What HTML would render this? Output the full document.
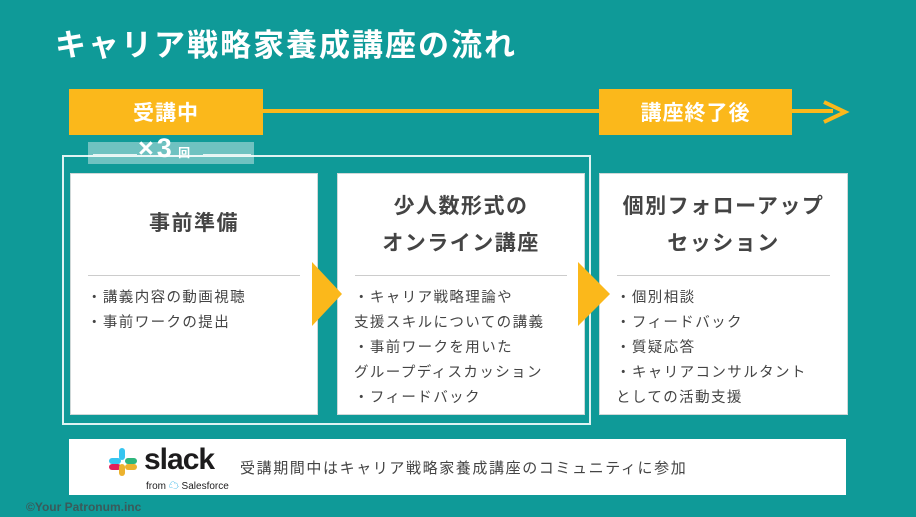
<!DOCTYPE html><html><head><meta charset="utf-8"><style>
body{margin:0;width:916px;height:517px;background:#0f9a98;position:relative;overflow:hidden;font-family:"Liberation Sans","Noto Sans CJK JP",sans-serif}
.a{position:absolute}
.y{background:#fbb81b;color:#fff;font-weight:bold;font-size:21px;display:flex;align-items:center;justify-content:center;letter-spacing:1px}
.card{background:#fff;border:1px solid #cfd8d8}
.h{position:absolute;left:0;right:0;text-align:center;font-weight:bold;color:#444;font-size:21px;line-height:37px;letter-spacing:1.5px}
.hr{position:absolute;height:1px;background:#ccc}
.t{position:absolute;color:#444;font-size:14.5px;line-height:25px;white-space:nowrap;letter-spacing:1.4px}
</style></head><body>
<div class="a" style="left:55px;top:20px;color:#fff;font-weight:bold;font-size:31px;letter-spacing:2px;white-space:nowrap">キャリア戦略家養成講座の流れ</div>
<div class="a" style="left:263px;top:109px;width:570px;height:4px;background:#fbb81b"></div>
<svg class="a" style="left:818px;top:99px" width="32" height="26"><polyline points="6,3 27,13 6,23" fill="none" stroke="#fbb81b" stroke-width="4"/></svg>
<div class="a y" style="left:69px;top:89px;width:194px;height:46px">受講中</div>
<div class="a y" style="left:599px;top:89px;width:193px;height:46px">講座終了後</div>
<div class="a" style="left:62px;top:155px;width:529px;height:270px;border:2px solid #dff3f2;box-sizing:border-box"></div>
<div class="a" style="left:88px;top:142px;width:166px;height:22px;background:rgba(255,255,255,.4)"></div>
<div class="a" style="left:93px;top:154px;width:44px;height:2px;background:#e6f5f4"></div>
<div class="a" style="left:203px;top:154px;width:48px;height:2px;background:#e6f5f4"></div>
<div class="a" style="left:138px;top:133px;color:#fff;font-size:27px;font-weight:bold;letter-spacing:3px">×3<span style="font-size:12px;letter-spacing:0"> 回</span></div>
<div class="a card" style="left:70px;top:173px;width:246px;height:240px">
<div class="h" style="top:31px">事前準備</div><div class="hr" style="left:17px;right:17px;top:101px"></div>
<div class="t" style="left:16px;top:112px">・講義内容の動画視聴<br>・事前ワークの提出</div></div>
<div class="a card" style="left:337px;top:173px;width:246px;height:240px">
<div class="h" style="top:14px">少人数形式の<br>オンライン講座</div><div class="hr" style="left:17px;right:17px;top:101px"></div>
<div class="t" style="left:16px;top:112px">・キャリア戦略理論や<br>支援スキルについての講義<br>・事前ワークを用いた<br>グループディスカッション<br>・フィードバック</div></div>
<div class="a card" style="left:599px;top:173px;width:247px;height:240px">
<div class="h" style="top:14px">個別フォローアップ<br>セッション</div><div class="hr" style="left:17px;right:17px;top:101px"></div>
<div class="t" style="left:16px;top:112px">・個別相談<br>・フィードバック<br>・質疑応答<br>・キャリアコンサルタント<br>としての活動支援</div></div>
<svg class="a" style="left:312px;top:262px" width="30" height="64"><polygon points="0,0 30,32 0,64" fill="#fbb81b"/></svg>
<svg class="a" style="left:578px;top:262px" width="32" height="64"><polygon points="0,0 32,32 0,64" fill="#fbb81b"/></svg>
<div class="a" style="left:69px;top:439px;width:777px;height:56px;background:#fff"></div>
<svg class="a" style="left:108px;top:447px" width="30" height="30">
<rect x="11" y="1" width="6" height="12" rx="3" fill="#36c5f0"/><rect x="1" y="11" width="12" height="6" rx="3" fill="#36c5f0"/>
<rect x="17" y="11" width="12" height="6" rx="3" fill="#2eb67d"/>
<rect x="1" y="17" width="12" height="6" rx="3" fill="#e01e5a"/><rect x="11" y="17" width="6" height="12" rx="3" fill="#ecb22e"/><rect x="17" y="17" width="12" height="6" rx="3" fill="#ecb22e"/>
</svg>
<div class="a" style="left:144px;top:443px;font-size:30px;font-weight:bold;color:#1d1c1d;letter-spacing:-1px">slack</div>
<div class="a" style="left:146px;top:477px;font-size:10px;color:#1d1c1d">from <span style="color:#00a1e0">☁</span> Salesforce</div>
<div class="a" style="left:240px;top:457px;font-size:15px;color:#444;letter-spacing:1.6px">受講期間中はキャリア戦略家養成講座のコミュニティに参加</div>
<div class="a" style="left:26px;top:500px;font-size:12px;font-weight:bold;color:#3a5a5a">©Your Patronum.inc</div>
</body></html>
